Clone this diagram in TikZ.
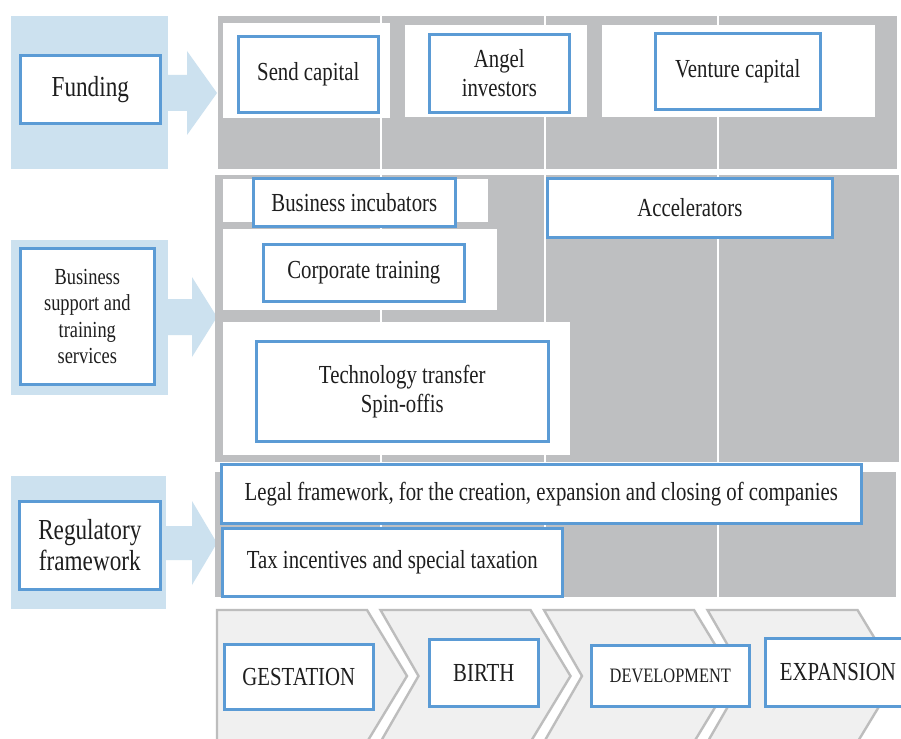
\documentclass[tikz,border=0pt]{standalone}
\usepackage{fontspec}
\setmainfont[FakeStretch=0.8]{Liberation Serif}
\usepackage{tikz}
\usetikzlibrary{positioning}
\usepackage{xcolor}
\definecolor{regBlue}{HTML}{5B9BD5}
\definecolor{regPale}{HTML}{CCE1EF}
\definecolor{regGray}{HTML}{BEBFC1}
\definecolor{regChev}{HTML}{F0F0F0}
\definecolor{regEdge}{HTML}{BDBDBD}
\definecolor{regInk}{HTML}{1E1E1E}

\begin{document}
\begin{tikzpicture}[x=1pt, y=-1pt,
  lbl/.style={draw=regBlue, line width=2.6pt, fill=white, text=regInk,
    anchor=north west, inner sep=0pt, align=center,
    font=\fontsize{26}{29}\selectfont},
  big/.style={font=\fontsize{29}{31}\selectfont},
  pale/.style={fill=regPale},
  panel/.style={fill=regGray},
  blank/.style={fill=white},
  gap/.style={draw=white, line width=2pt},
  chev/.style={fill=regChev, draw=regEdge, line width=2.4pt}]
\useasboundingbox (0,0) rectangle (901,738);
\clip (0,0) rectangle (901,738);
\fill[white] (0,0) rectangle (901,738);

% left column: pale blocks, block arrows, labels
\fill[pale] (11,16) rectangle (168,169);
\fill[pale] (11,240) rectangle (168,395);
\fill[pale] (11,476) rectangle (166,609);
\foreach \yc/\bh/\hh/\hb in {93/18/42/187, 317/18/40/192, 543/17/42/192}
  \fill[pale] (160,\yc-\bh) -- (\hb,\yc-\bh) -- (\hb,\yc-\hh) -- (217,\yc)
    -- (\hb,\yc+\hh) -- (\hb,\yc+\bh) -- (160,\yc+\bh) -- cycle;
\node[lbl, big, minimum width=140, minimum height=68] (funding) at (19,54) {Funding};
\node[lbl, minimum width=134, minimum height=136,
  font=\fontsize{23}{26.5}\selectfont] (support) at (19,247)
  {Business\\support and\\training\\services};
\node[lbl, big, minimum width=141, minimum height=88] (regul) at (18,500)
  {Regulatory\\framework};

% grey panels with the stage dividers
\fill[panel] (218,16) rectangle (897,169);
\fill[panel] (215,175) rectangle (899,462);
\fill[panel] (215,472) rectangle (896,597);
\foreach \xg in {381,545,718}{
  \draw[gap] (\xg,16) -- (\xg,169);
  \draw[gap] (\xg,175) -- (\xg,462);
  \draw[gap] (\xg,472) -- (\xg,597);
}
\fill[blank] (223,23) rectangle (390,118);
\fill[blank] (405,25) rectangle (587,117);
\fill[blank] (602,25) rectangle (875,117);
\fill[blank] (223,179) rectangle (488,222);
\fill[blank] (223,229) rectangle (497,310);
\fill[blank] (223,322) rectangle (570,455);

% funding
\node[lbl, minimum width=140, minimum height=76] (seed) at (237,35) {Send capital};
\node[lbl, minimum width=140, minimum height=78] (angel) at (428,33) {Angel\\investors};
\node[lbl, minimum width=165, minimum height=76] (venture) at (654,32) {Venture capital};

% support and training
\node[lbl, minimum width=202, minimum height=48] (incub) at (252,177) {Business incubators};
\node[lbl, minimum width=285, minimum height=59] (accel) at (546,177) {Accelerators};
\node[lbl, minimum width=201, minimum height=57] (corp) at (262,243) {Corporate training};
\node[lbl, minimum width=292, minimum height=100] (tech) at (255,340)
  {Technology transfer\\Spin-offis};

% regulation
\node[lbl, minimum width=640, minimum height=59] (legal) at (220,463)
  {Legal framework, for the creation, expansion and closing of companies};
\node[lbl, minimum width=340, minimum height=68] (tax) at (221,527)
  {Tax incentives and special taxation};

% life-cycle stages
\foreach \i in {0,...,3}{
  \pgfmathsetmacro{\xa}{217+163.5*\i}
  \pgfmathsetmacro{\xb}{\xa+150}
  \pgfmathsetmacro{\notch}{\i>0 ? 38 : 0}
  \draw[chev] (\xa,610) -- (\xb,610) -- (\xb+40,676) -- (\xb,742)
    -- (\xa,742) -- (\xa+\notch,676) -- cycle;
}
\node[lbl, minimum width=149, minimum height=65] (gest) at (223,643) {GESTATION};
\node[lbl, minimum width=109, minimum height=67] (birth) at (428,638) {BIRTH};
\node[lbl, minimum width=158, minimum height=61,
  font=\fontsize{20.5}{24}\selectfont] (devel) at (590,644) {DEVELOPMENT};
\node[lbl, minimum width=145, minimum height=68] (expan) at (764,637) {EXPANSION};
\end{tikzpicture}
\end{document}
